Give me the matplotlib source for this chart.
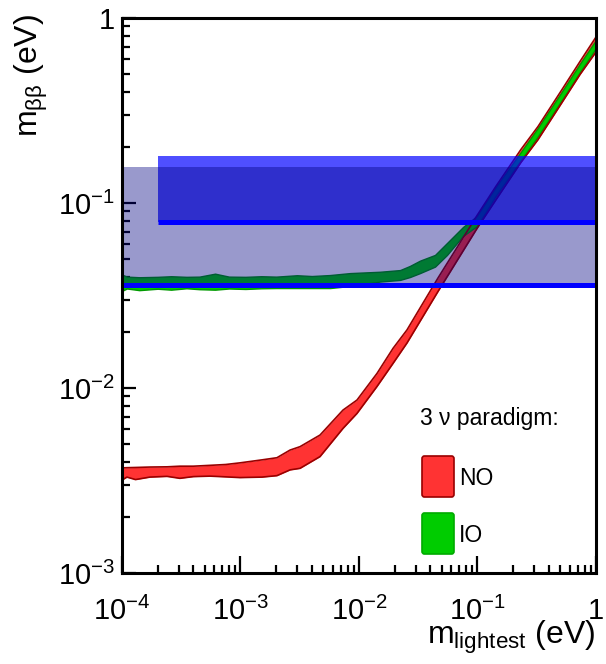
import matplotlib.pyplot as plt
from matplotlib.patches import FancyBboxPatch

plt.rcParams['font.family'] = ['Liberation Sans', 'DejaVu Sans']
plt.rcParams['mathtext.default'] = 'regular'

# normal ordering: m_lightest (eV) -> m_bb band (eV)
no_x = [1.0e-4, 1.1e-4, 1.3e-4, 1.72e-4, 2.4e-4, 3.08e-4, 4.0e-4, 5.53e-4, 7.5e-4,
        9.9e-4, 1.52e-3, 2.03e-3, 2.62e-3, 3.18e-3, 4.69e-3, 7.33e-3, 9.62e-3,
        1.42e-2, 1.94e-2, 2.54e-2, 4.65e-2, 9.9e-2, 0.143, 0.233, 0.324, 0.516,
        0.733, 1.0]
no_hi = [0.00370, 0.00371, 0.00372, 0.00374, 0.00375, 0.00378, 0.00378, 0.00382,
         0.00386, 0.00394, 0.00409, 0.00420, 0.00462, 0.00482, 0.00557, 0.00760,
         0.00861, 0.0120, 0.0164, 0.0206, 0.0394, 0.0855, 0.123, 0.195, 0.259,
         0.410, 0.582, 0.789]
no_lo = [0.00318, 0.00330, 0.00320, 0.00330, 0.00333, 0.00325, 0.00332, 0.00334,
         0.00331, 0.00328, 0.00330, 0.00336, 0.00361, 0.00368, 0.00426, 0.00605,
         0.00729, 0.0102, 0.0136, 0.0175, 0.0333, 0.0728, 0.104, 0.166, 0.220,
         0.349, 0.495, 0.655]

# inverted ordering
io_x = [1.0e-4, 1.1e-4, 1.4e-4, 2.0e-4, 2.6e-4, 3.5e-4, 4.5e-4, 6.1e-4, 8.0e-4,
        1.1e-3, 1.5e-3, 2.0e-3, 3.0e-3, 4.0e-3, 5.7e-3, 8.4e-3, 1.5e-2, 2.22e-2,
        2.69e-2, 3.27e-2, 4.38e-2, 5.53e-2, 7.55e-2, 9.9e-2, 0.143, 0.233, 0.324,
        0.516, 0.733, 1.0]
io_hi = [0.0410, 0.0400, 0.0397, 0.0399, 0.0402, 0.0399, 0.0400, 0.0415, 0.0400,
         0.0399, 0.0402, 0.0400, 0.0407, 0.0403, 0.0408, 0.0418, 0.0425, 0.0434,
         0.0457, 0.0488, 0.0524, 0.0608, 0.0742, 0.0851, 0.122, 0.189, 0.255,
         0.400, 0.566, 0.760]
io_lo = [0.0335, 0.0345, 0.0338, 0.0344, 0.0340, 0.0346, 0.0342, 0.0340, 0.0345,
         0.0343, 0.0346, 0.0347, 0.0347, 0.0347, 0.0347, 0.0356, 0.0376, 0.0384,
         0.0398, 0.0418, 0.0453, 0.0524, 0.0664, 0.0751, 0.110, 0.171, 0.230,
         0.361, 0.511, 0.689]

# sensitivity bands: x range, lower and upper m_bb
wide_x = [1e-4, 1.0]
wide_lo, wide_hi = 0.0361, 0.157
narrow_x = [2e-4, 1.0]
narrow_lo, narrow_hi = 0.0791, 0.1795

xticks = [1e-4, 1e-3, 1e-2, 1e-1, 1]
xlabels = ['$10^{-4}$', '$10^{-3}$', '$10^{-2}$', '$10^{-1}$', '1']
yticks = [1e-3, 1e-2, 1e-1, 1]
ylabels = ['$10^{-3}$', '$10^{-2}$', '$10^{-1}$', '1']

fig = plt.figure(figsize=(6.06, 6.64), dpi=100)
ax = fig.add_axes([0.2013, 0.1370, 0.7822, 0.8359])
ax.set_xscale('log')
ax.set_yscale('log')
ax.set_xlim(1e-4, 1)
ax.set_ylim(1e-3, 1)

red, dred = '#ff3333', '#990000'
green, dgreen = '#00cc00', '#009a00'

ax.fill_between(no_x, no_lo, no_hi, color=red, lw=0, zorder=2)
ax.fill_between(io_x, io_lo, io_hi, facecolor=green, edgecolor=dgreen, lw=1.0, zorder=3)
ax.plot(no_x, no_hi, color=dred, lw=1.2, zorder=4)
ax.plot(no_x, no_lo, color=dred, lw=1.2, zorder=4)
ax.plot([no_x[0], no_x[0]], [no_lo[0], no_hi[0]], color=dred, lw=1.2, zorder=4)

ax.fill_between(narrow_x, narrow_lo, narrow_hi, color=(0, 0, 1), alpha=0.69, lw=0, zorder=5)
ax.fill_between(wide_x, wide_lo, wide_hi, color=(0, 0, 0.5), alpha=0.4, lw=0, zorder=6)
ax.plot(wide_x, [wide_lo, wide_lo], color='#0000ff', lw=3.6, zorder=7, solid_capstyle='butt')
ax.plot(narrow_x, [narrow_lo, narrow_lo], color='#0000ff', lw=3.6, zorder=7, solid_capstyle='butt')

for s in ax.spines.values():
    s.set_linewidth(2.2)
    s.set_zorder(8)
ax.set_xticks(xticks, xlabels)
ax.set_yticks(yticks, ylabels)
ax.tick_params(which='both', direction='in', top=False, right=False, width=1.6, labelsize=21)
ax.tick_params(axis='x', which='major', length=12, pad=17)
ax.tick_params(axis='x', which='minor', length=6)
ax.tick_params(axis='y', which='major', length=10, pad=5)
ax.tick_params(axis='y', which='minor', length=6)

fig.text(595 / 606, 1 - 644 / 664, '$m_{lightest}$ (eV)', fontsize=23,
         ha='right', va='baseline')
fig.text(38 / 606, 1 - 14 / 664, r'$m_{\beta\beta}$ (eV)', fontsize=23,
         rotation=90, rotation_mode='anchor', ha='right', va='baseline')

# legend
fig.text(420 / 606, 1 - 425 / 664, '3 ν paradigm:', fontsize=16.5, va='baseline')
for y0, fc, ec, name, base in [(456, red, dred, 'NO', 485), (513, green, '#00aa00', 'IO', 542)]:
    box = FancyBboxPatch((422 / 606, 1 - (y0 + 41) / 664), 32 / 606, 41 / 664,
                         boxstyle='round,pad=0,rounding_size=0.004',
                         transform=fig.transFigure, facecolor=fc, edgecolor=ec, lw=1.2)
    fig.add_artist(box)
    fig.text(459 / 606, 1 - base / 664, name, fontsize=16.5, va='baseline')

fig.savefig('out.png', dpi=100)
